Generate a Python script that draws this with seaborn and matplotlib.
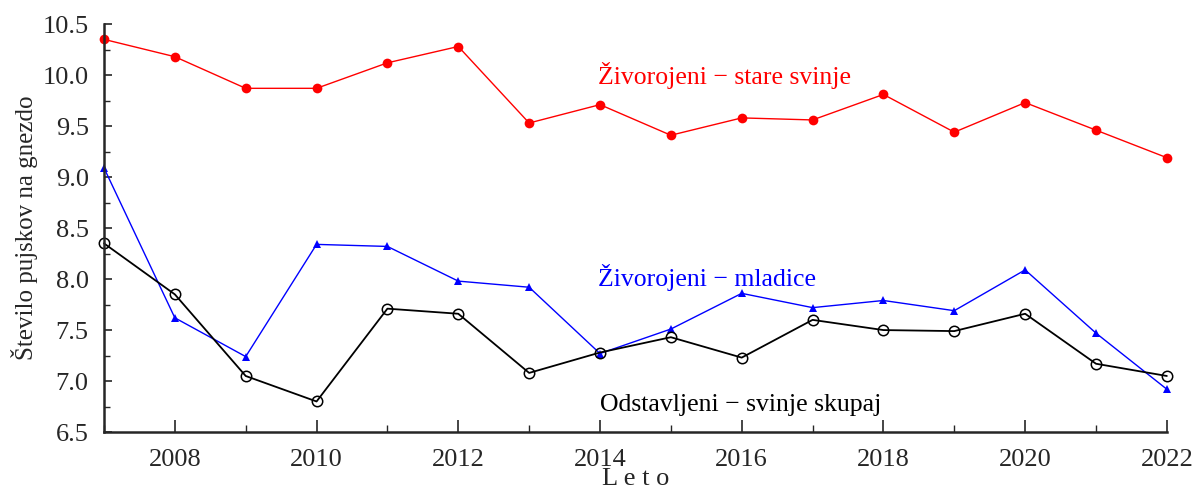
import numpy as np
import pandas as pd
import seaborn as sns
import matplotlib.pyplot as plt
from matplotlib.ticker import MultipleLocator

# data
years = list(range(2007, 2023))
stare_svinje = [10.35, 10.18, 9.87, 9.87, 10.12, 10.28, 9.53, 9.71,
                9.41, 9.58, 9.56, 9.81, 9.44, 9.73, 9.46, 9.19]
mladice = [9.09, 7.62, 7.24, 8.34, 8.32, 7.98, 7.92, 7.27,
           7.51, 7.86, 7.72, 7.79, 7.69, 8.09, 7.47, 6.92]
odstavljeni = [8.35, 7.85, 7.05, 6.80, 7.71, 7.66, 7.08, 7.28,
               7.43, 7.23, 7.60, 7.50, 7.49, 7.66, 7.17, 7.05]

df = pd.DataFrame({'leto': years, 'stare': stare_svinje,
                   'mladice': mladice, 'odstavljeni': odstavljeni})

sns.set_style('ticks')
plt.rcParams['font.family'] = ['Liberation Serif', 'DejaVu Serif']

fig = plt.figure(figsize=(11.98, 4.91), dpi=100)
ax = fig.add_axes([0.0868, 0.120, 0.8872, 0.831])

sns.lineplot(data=df, x='leto', y='stare', ax=ax, color='#ff0000', lw=1.0,
             marker='o', markersize=7, markeredgewidth=0, clip_on=False)
sns.lineplot(data=df, x='leto', y='mladice', ax=ax, color='#0000ff', lw=1.0,
             marker='^', markersize=6, markeredgewidth=0, clip_on=False)
sns.lineplot(data=df, x='leto', y='odstavljeni', ax=ax, color='black', lw=1.3,
             marker='o', markersize=7.5, markerfacecolor='none',
             markeredgecolor='black', markeredgewidth=1.1, clip_on=False)

# series labels
ax.text(2013.97, 10.0, 'Živorojeni \u2212 stare svinje', color='#ff0000',
        fontsize=18.5, va='center', ha='left')
ax.text(2013.97, 8.02, 'Živorojeni \u2212 mladice', color='#0000ff',
        fontsize=18.5, va='center', ha='left')
ax.text(2014.0, 6.77, 'Odstavljeni \u2212 svinje skupaj', color='black',
        fontsize=18.5, va='center', ha='left')

ax.set_xlim(2007, 2022)
ax.set_ylim(6.5, 10.5)
ax.set_xticks(range(2008, 2023, 2))
ax.xaxis.set_minor_locator(MultipleLocator(1))
ax.yaxis.set_major_locator(MultipleLocator(0.5))
ax.yaxis.set_minor_locator(MultipleLocator(0.25))
ax.yaxis.set_major_formatter(plt.FormatStrFormatter('%.1f'))

ax.tick_params(axis='x', which='major', direction='in', length=9, width=1.2,
               pad=12, labelsize=19)
ax.tick_params(axis='x', which='minor', direction='in', length=5, width=1.0)
ax.tick_params(axis='y', which='major', direction='in', length=6, width=1.2,
               pad=11, labelsize=19)
ax.tick_params(axis='y', which='minor', direction='in', length=4, width=1.0)

for s in ['top', 'right']:
    ax.spines[s].set_visible(False)
for s in ['left', 'bottom']:
    ax.spines[s].set_linewidth(1.8)

ax.set_xlabel('L e t o', fontsize=19, labelpad=-2)
ax.set_ylabel('Število pujskov na gnezdo', fontsize=18, labelpad=3)

fig.savefig('out.png', dpi=100)
